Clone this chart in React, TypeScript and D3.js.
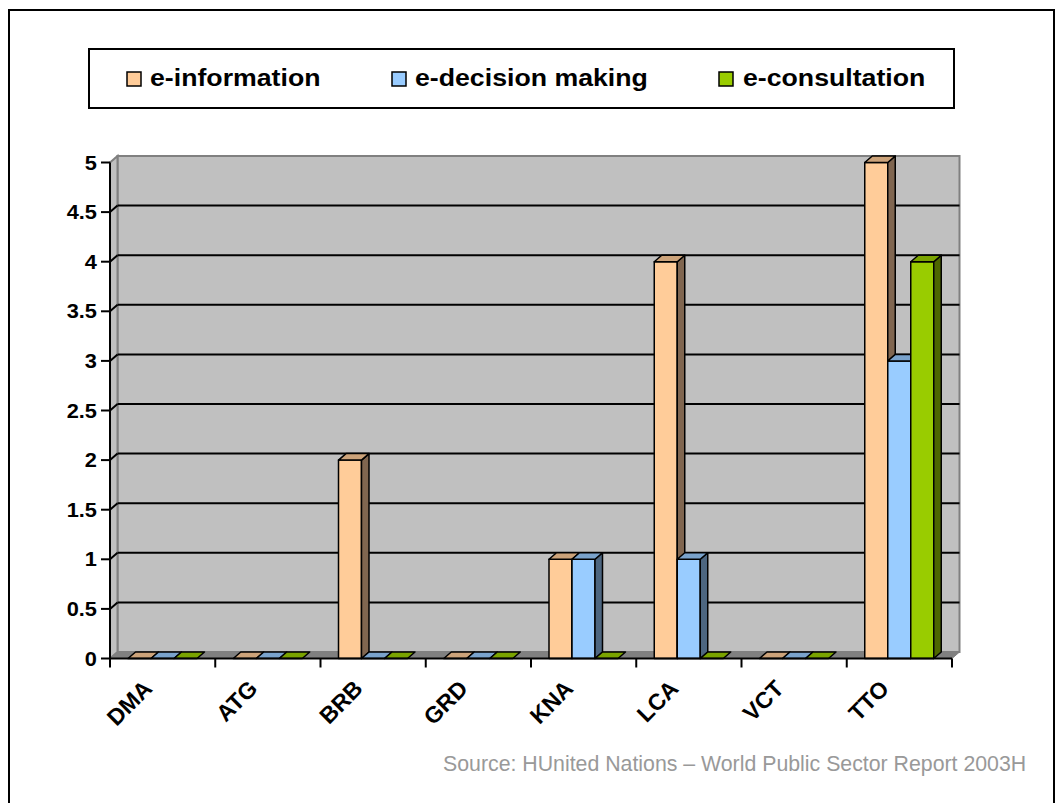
import React from "react";
import * as d3 from "d3";

// Countries on the x axis
const categories = ["DMA", "ATG", "BRB", "GRD", "KNA", "LCA", "VCT", "TTO"];
const seriesNames = ["e-information", "e-decision making", "e-consultation"];

// Scores per country for each e-participation stage
const eInformation = [0, 0, 2, 0, 1, 4, 0, 5];
const eDecisionMaking = [0, 0, 0, 0, 1, 1, 0, 3];
const eConsultation = [0, 0, 0, 0, 0, 0, 0, 4];

const yTickValues = [0, 0.5, 1, 1.5, 2, 2.5, 3, 3.5, 4, 4.5, 5];
const yTickLabels = ["0", "0.5", "1", "1.5", "2", "2.5", "3", "3.5", "4", "4.5", "5"];

const sourceText = "Source: HUnited Nations \u2013 World Public Sector Report 2003H";

// Face colours: front, top, side
const palette = [
  { front: "#FFCC99", top: "#CCA37A", side: "#806650" },
  { front: "#99CCFF", top: "#7AA3CC", side: "#4D6680" },
  { front: "#99CC00", top: "#7AA300", side: "#4D6600" },
];

const W = 1057;
const H = 803;
const FONT = "'Liberation Sans', Arial, Helvetica, sans-serif";
const STRETCH = 1.09;

// 3D depth offset
const DX = 7.5;
const DY = -6.5;

const X0 = 110;
const X1 = 952;
const Y0 = 658.5;
const Y1 = 162.5;

export default function App() {
  const x = d3.scaleBand<string>().domain(categories).range([X0, X1]).padding(0);
  const y = d3.scaleLinear().domain([0, 5]).range([Y0, Y1]);
  const sub = d3.scaleBand<string>().domain(seriesNames).range([18, 87]).padding(0);

  const seriesValues = [eInformation, eDecisionMaking, eConsultation];
  const bw = sub.bandwidth();

  const poly = (pts: [number, number][]) => pts.map((p) => p.join(",")).join(" ");

  const legendItems = [
    { name: seriesNames[0], sx: 127, tx: 150 },
    { name: seriesNames[1], sx: 392, tx: 415 },
    { name: seriesNames[2], sx: 719, tx: 743 },
  ];

  const boundaries = d3.range(categories.length + 1).map((i) => X0 + i * x.step());

  return (
    <svg
      width={W}
      height={H}
      style={{ position: "absolute", left: 0, top: 0, background: "#fff" }}
      fontFamily={FONT}
    >
      {/* outer frame */}
      <rect x={9} y={10} width={1045} height={810} fill="#fff" stroke="#000" strokeWidth={2} />

      {/* legend */}
      <rect x={89} y={49} width={865} height={59} fill="#fff" stroke="#000" strokeWidth={2} />
      {legendItems.map((it, i) => (
        <g key={it.name}>
          <rect x={it.sx} y={72} width={14} height={14} fill={palette[i].front} stroke="#000" strokeWidth={1.5} />
          <text
            transform={`translate(${it.tx},86) scale(${STRETCH},1)`}
            fontSize={24.5}
            fontWeight="bold"
            fill="#000"
          >
            {it.name}
          </text>
        </g>
      ))}

      {/* walls and floor */}
      <rect
        x={X0 + DX}
        y={y(5) + DY}
        width={X1 - X0}
        height={y(0) - y(5)}
        fill="#C0C0C0"
        stroke="#808080"
        strokeWidth={2}
      />
      <polygon
        points={poly([
          [X0, y(5)],
          [X0 + DX, y(5) + DY],
          [X0 + DX, y(0) + DY],
          [X0, y(0)],
        ])}
        fill="#C0C0C0"
        stroke="#808080"
        strokeWidth={2}
      />
      <polygon
        points={poly([
          [X0, y(0)],
          [X1, y(0)],
          [X1 + DX, y(0) + DY],
          [X0 + DX, y(0) + DY],
        ])}
        fill="#808080"
        stroke="#808080"
        strokeWidth={1}
      />

      {/* gridlines */}
      {yTickValues
        .filter((v) => v > 0 && v < 5)
        .map((v) => (
          <g key={v}>
            <line x1={X0 + DX} x2={X1 + DX} y1={y(v) + DY} y2={y(v) + DY} stroke="#000" strokeWidth={2} />
            <line x1={X0} x2={X0 + DX} y1={y(v)} y2={y(v) + DY} stroke="#000" strokeWidth={2} />
          </g>
        ))}

      {/* bars */}
      {categories.map((c, ci) =>
        seriesValues.map((vals, si) => {
          const v = vals[ci];
          const bx = (x(c) as number) + (sub(seriesNames[si]) as number);
          const by = y(v);
          const b0 = y(0);
          const col = palette[si];
          return (
            <g key={`${c}-${si}`} stroke="#000" strokeWidth={1.5} strokeLinejoin="round">
              {v > 0 && (
                <>
                  <rect x={bx} y={by} width={bw} height={b0 - by} fill={col.front} />
                  <polygon
                    points={poly([
                      [bx + bw, by],
                      [bx + bw + DX, by + DY],
                      [bx + bw + DX, b0 + DY],
                      [bx + bw, b0],
                    ])}
                    fill={col.side}
                  />
                </>
              )}
              <polygon
                points={poly([
                  [bx, by],
                  [bx + bw, by],
                  [bx + bw + DX, by + DY],
                  [bx + DX, by + DY],
                ])}
                fill={col.top}
              />
            </g>
          );
        })
      )}

      {/* y axis */}
      <line x1={X0} x2={X0} y1={y(5)} y2={y(0)} stroke="#000" strokeWidth={2} />
      {yTickValues.map((v, i) => (
        <g key={v}>
          <line x1={X0 - 9} x2={X0} y1={y(v)} y2={y(v)} stroke="#000" strokeWidth={2} />
          <text
            transform={`translate(97,${y(v) + 7}) scale(${STRETCH},1)`}
            textAnchor="end"
            fontSize={20}
            fontWeight="bold"
            fill="#000"
          >
            {yTickLabels[i]}
          </text>
        </g>
      ))}

      {/* x axis */}
      <line x1={X0} x2={X1} y1={y(0)} y2={y(0)} stroke="#000" strokeWidth={2} />
      {boundaries.map((bx) => (
        <line key={bx} x1={bx} x2={bx} y1={y(0)} y2={y(0) + 9} stroke="#000" strokeWidth={2} />
      ))}
      {categories.map((c) => {
        const cx = (x(c) as number) + x.bandwidth() / 2;
        return (
          <text
            key={c}
            transform={`translate(${cx - 9},690) rotate(-45)`}
            textAnchor="end"
            fontSize={23}
            fontWeight="bold"
            fill="#000"
          >
            {c}
          </text>
        );
      })}

      {/* source note */}
      <text x={443} y={771} fontSize={21.3} fill="#999999">
        {sourceText}
      </text>
    </svg>
  );
}
